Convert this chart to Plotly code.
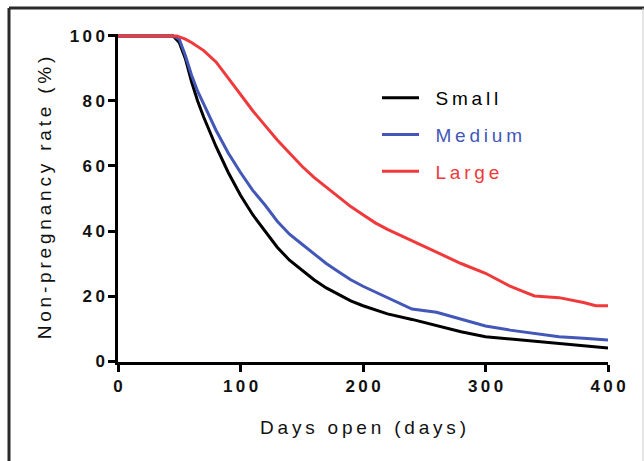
import plotly.graph_objects as go

# ---- data ----
small_days = [0, 45, 50, 55, 60, 65, 70, 80, 90, 100, 110, 120, 130, 140, 150, 160, 170, 180, 190, 200,
              220, 240, 260, 280, 300, 320, 340, 360, 380, 400]
small_vals = [100, 100, 98, 93, 86, 80, 75, 66, 58, 51, 45, 40, 35, 31, 28, 25, 22.5, 20.5, 18.5, 17,
              14.5, 12.8, 11, 9, 7.5, 6.8, 6, 5.3, 4.7, 4]

medium_days = [0, 45, 50, 55, 60, 65, 70, 80, 90, 100, 110, 120, 130, 140, 150, 160, 170, 180, 190, 200,
               220, 240, 260, 280, 300, 320, 340, 360, 380, 400]
medium_vals = [100, 100, 99, 94, 88, 83, 79, 71, 64, 58, 52.5, 48, 43, 39, 36, 33, 30, 27.5, 25, 23,
               19.5, 16, 15, 13, 10.8, 9.5, 8.5, 7.5, 7, 6.5]

large_days = [0, 48, 55, 60, 70, 80, 90, 100, 110, 120, 130, 140, 150, 160, 170, 180, 190, 200, 210, 220,
              240, 260, 280, 300, 320, 330, 340, 360, 380, 390, 400]
large_vals = [100, 100, 99, 98, 95.5, 92, 87, 82, 77, 72.5, 68, 64, 60, 56.5, 53.5, 50.5, 47.5, 45, 42.5, 40.5,
              37, 33.5, 30, 27, 23, 21.5, 20, 19.5, 18, 17, 17]

series_names = ["Small", "Medium", "Large"]
series_colors = ["#000000", "#4257B8", "#F0393B"]

x_ticks = [0, 100, 200, 300, 400]
y_ticks = [0, 20, 40, 60, 80, 100]
x_title = "Days open (days)"
y_title = "Non-pregnancy rate (%)"

SP = "\u2009"


def spread(s):
    return SP.join(list(s))


FONT = "Liberation Sans, Arial, sans-serif"

fig = go.Figure()
for name, color, xs, ys in zip(series_names, series_colors,
                               [small_days, medium_days, large_days],
                               [small_vals, medium_vals, large_vals]):
    fig.add_trace(go.Scatter(
        x=xs, y=ys, mode="lines", name=f'<span style="color:{color}">{SP*3}{spread(name)}</span>',
        legendgroup=name,
        line=dict(color=color, width=3), hoverinfo="skip"))

W, H = 644, 461
YMIN, YMAX = -0.3, 100.6
L, R = 118, 36
T = round(36 - (YMAX - 100) * 3.25)
B = H - round(361 + (0 - YMIN) * 3.25)
pw, ph = W - L - R, H - T - B


def px(xp):
    return (xp - L) / pw


def py(yp):
    return (H - B - yp) / ph


axis_common = dict(showgrid=False, zeroline=False, showline=True, linecolor="black", linewidth=2.5,
                   ticks="outside", ticklen=7, tickwidth=2.5, tickcolor="black",
                   tickfont=dict(family=FONT, size=17, color="#111111", weight="bold"))

fig.update_layout(
    width=W, height=H,
    margin=dict(l=L, r=R, t=T, b=B, pad=0),
    paper_bgcolor="white", plot_bgcolor="white",
    showlegend=True,
    legend=dict(x=px(377), y=py(79), xanchor="left", yanchor="top",
                font=dict(family=FONT, size=19), bgcolor="rgba(0,0,0,0)",
                tracegroupgap=9, itemwidth=37),
    xaxis=dict(range=[0, 400], tickvals=x_ticks, ticktext=[spread(str(v)) for v in x_ticks],
               title=dict(text=spread(x_title), font=dict(family=FONT, size=19, color="#111111"),
                          standoff=26),
               **axis_common),
    yaxis=dict(range=[YMIN, YMAX], tickvals=y_ticks, ticktext=[spread(str(v)) for v in y_ticks],
               title=dict(text=spread(y_title), font=dict(family=FONT, size=19, color="#111111"),
                          standoff=14),
               **axis_common),
    shapes=[
        dict(type="line", xref="paper", yref="paper", x0=px(9), x1=px(644), y0=py(8), y1=py(8),
             line=dict(color="#2a2a2a", width=3)),
        dict(type="line", xref="paper", yref="paper", x0=px(9), x1=px(9), y0=py(8), y1=py(461),
             line=dict(color="#2a2a2a", width=3)),
        dict(type="line", xref="paper", yref="paper", x0=px(643), x1=px(643), y0=py(8), y1=py(461),
             line=dict(color="#cccccc", width=1)),
    ],
)

fig.write_html("out.html", config={"displayModeBar": False},
               post_script="document.body.style.margin='0';document.body.style.overflow='hidden';")
